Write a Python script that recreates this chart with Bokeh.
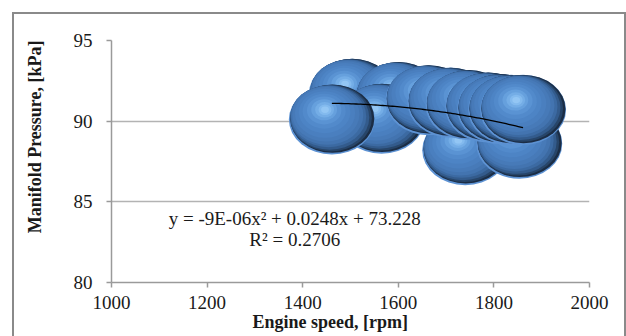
import numpy as np
from bokeh.plotting import figure
from bokeh.models import ColumnDataSource, Label, Range1d, FixedTicker, Title, InlineStyleSheet
from bokeh.embed import file_html
from bokeh.resources import INLINE

# ---- data (drawing order: back to front) ----
engine_speed = [1503, 1600, 1740, 1853, 1565, 1663, 1709, 1747, 1788, 1813, 1836, 1861, 1461]
manifold_pressure = [91.7, 91.5, 88.2, 88.6, 90.15, 91.3, 91.15, 91.0, 90.85, 90.75, 90.7, 90.7, 90.1]
bubble_size = [1.0, 1.0, 1.0, 1.0, 1.0, 1.0, 1.0, 1.0, 1.0, 1.0, 1.0, 1.0, 1.0]
trend_coef = [-8.6e-06, 0.0248, 73.228]
equation_text = "y = -9E-06x² + 0.0248x + 73.228"
r2_text = "R² = 0.2706"
x_ticks = [1000, 1200, 1400, 1600, 1800, 2000]
y_ticks = [80, 85, 90, 95]
x_title = "Engine speed, [rpm]"
y_title = "Manifold Pressure, [kPa]"

# ---- layout ----
W, H = 626, 336
BL, BR, BT, BB = 109, 37, 40, 54
X0, X1, Y0, Y1 = 1000, 2000, 80, 95
fw, fh = W - BL - BR, H - BT - BB
px_x = fw / (X1 - X0)
px_y = fh / (Y1 - Y0)

def dx(sx):  # canvas x -> data x
    return X0 + (sx - BL) / px_x

def dy(sy):  # canvas y -> data y
    return Y1 - (sy - BT) / px_y

FONT = "Liberation Serif"
TXT = "#1a1a1a"

border_css = InlineStyleSheet(css="""
:host::after {
  content: "";
  position: absolute;
  left: 12px; top: 12px;
  width: 610px; height: 322px;
  border-left: 2px solid #8a8a8a;
  border-top: 2px solid #8a8a8a;
  border-right: 2px solid #8a8a8a;
  pointer-events: none;
  z-index: 10;
  box-sizing: content-box;
}
""")

p = figure(width=W, height=H, x_range=Range1d(X0, X1), y_range=Range1d(Y0, Y1),
           output_backend="svg", toolbar_location=None,
           min_border_left=BL, min_border_right=BR, min_border_top=BT, min_border_bottom=BB)
p.stylesheets = [border_css]
p.outline_line_color = None
p.background_fill_color = "white"
p.border_fill_color = "white"

for ax, ticks in ((p.xaxis, x_ticks), (p.yaxis, y_ticks)):
    ax.ticker = FixedTicker(ticks=ticks)
    ax.axis_line_color = "#9a9a9a"
    ax.axis_line_width = 1.5
    ax.major_tick_line_color = "#9a9a9a"
    ax.major_tick_line_width = 1.5
    ax.major_tick_out = 5
    ax.major_tick_in = 0
    ax.minor_tick_line_color = None
    ax.major_label_text_font = FONT
    ax.major_label_text_font_size = "19px"
    ax.major_label_text_color = TXT
p.xaxis.major_label_standoff = 8
p.yaxis.major_label_standoff = 14

p.xgrid.visible = False
p.ygrid.grid_line_color = "#b3b3b3"
p.ygrid.grid_line_width = 1.5

# ---- axis titles ----
p.add_layout(Title(text=y_title, align="right", offset=0, vertical_align="top", standoff=48,
                   text_font=FONT, text_font_size="18px", text_font_style="bold",
                   text_color=TXT), "left")
p.add_layout(Title(text=x_title, align="left", offset=250 - BL, vertical_align="top", standoff=0,
                   text_font=FONT, text_font_size="18px", text_font_style="bold",
                   text_color=TXT), "below")

# ---- bubbles with simulated 3D shading ----
base_w, base_h = 86.0, 70.0
# (scale, x-offset fraction, y-offset fraction (up), colour)
shade = [
    (1.000, 0.000, 0.000, "#5d92d3"),
    (0.975, 0.006, 0.012, "#1b2d45"),
    (0.950, -0.010, 0.020, "#274569"),
    (0.920, -0.025, 0.030, "#335b8c"),
    (0.880, -0.040, 0.045, "#3c6aa2"),
    (0.840, -0.055, 0.060, "#4374b0"),
    (0.780, -0.070, 0.075, "#477ab8"),
    (0.700, -0.080, 0.090, "#4a7fbf"),
    (0.600, -0.085, 0.105, "#4d84c5"),
    (0.500, -0.090, 0.120, "#528acb"),
    (0.400, -0.090, 0.130, "#5a93d3"),
    (0.300, -0.090, 0.140, "#66a0dd"),
    (0.220, -0.085, 0.140, "#74ade6"),
    (0.150, -0.080, 0.140, "#83baee"),
    (0.090, -0.080, 0.140, "#93c6f4"),
]
xs, ys, ws, hs, cs = [], [], [], [], []
for xv, yv, sv in zip(engine_speed, manifold_pressure, bubble_size):
    bw, bh = base_w * np.sqrt(sv), base_h * np.sqrt(sv)
    for s, ox, oy, c in shade:
        xs.append(xv + ox * bw / px_x)
        ys.append(yv + oy * bh / px_y)
        ws.append(bw * s)
        hs.append(bh * s)
        cs.append(c)

src = ColumnDataSource(dict(x=xs, y=ys, w=ws, h=hs, c=cs))
p.ellipse(x="x", y="y", width="w", height="h", width_units="screen", height_units="screen",
          fill_color="c", line_color=None, source=src)

# ---- trend line ----
tx = np.linspace(min(engine_speed), max(engine_speed), 80)
ty = np.polyval(trend_coef, tx)
p.line(tx, ty, line_color="black", line_width=1.3)

# ---- trendline equation ----
p.add_layout(Label(x=dx(293), y=dy(218), text=equation_text, text_font=FONT, text_font_size="19px",
                   text_align="center", text_baseline="middle", text_color=TXT))
p.add_layout(Label(x=dx(293), y=dy(239), text=r2_text, text_font=FONT, text_font_size="19px",
                   text_align="center", text_baseline="middle", text_color=TXT))

open("out.html", "w").write(file_html(p, INLINE))
